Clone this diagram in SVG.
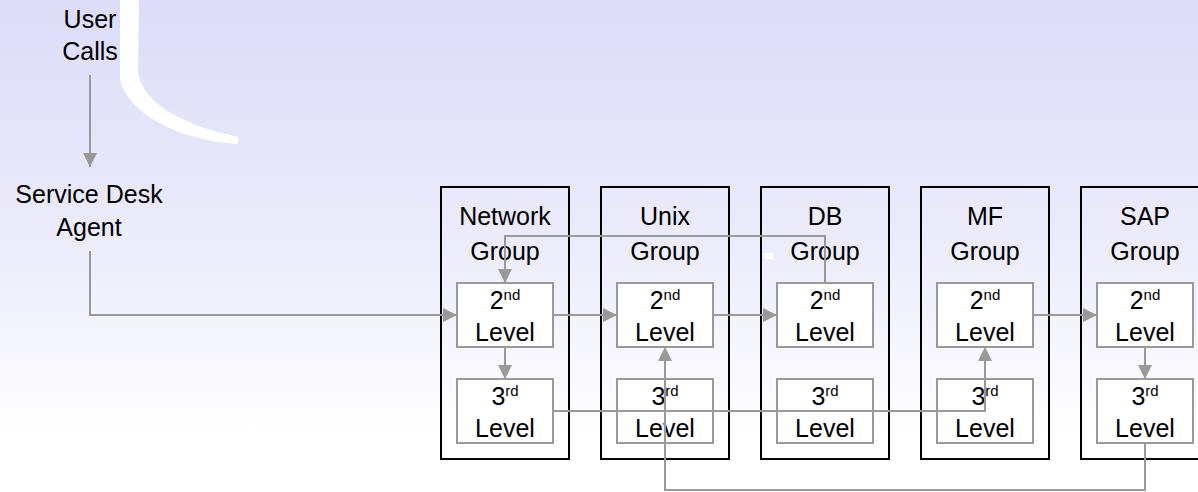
<svg xmlns="http://www.w3.org/2000/svg" width="1198" height="492" viewBox="0 0 1198 492">
<defs>
<linearGradient id="bg" x1="0" y1="0" x2="0" y2="1">
<stop offset="0" stop-color="#dcdcf8"/>
<stop offset="0.5" stop-color="#ececfb"/>
<stop offset="0.88" stop-color="#ffffff"/>
</linearGradient>
<marker id="arr" markerUnits="userSpaceOnUse" markerWidth="16" markerHeight="16" refX="14" refY="7" orient="auto">
<path d="M0,0 L14,7 L0,14 Z" fill="#999999"/>
</marker>
</defs>
<style>
text{font-family:"Liberation Sans",Arial,sans-serif;font-size:25px;fill:#000;text-anchor:middle}
.sup{font-size:15px}
.grp{fill:none;stroke:#000;stroke-width:2}
.lvl{fill:#fff;stroke:#999999;stroke-width:2}
.con{fill:none;stroke:#999999;stroke-width:2;marker-end:url(#arr)}
</style>
<rect x="0" y="0" width="1198" height="492" fill="url(#bg)"/>
<path d="M120,0 L139,0 L138,72 C142,98 170,122 238,137 L238,144 C175,140 128,112 120,80 Z" fill="#ffffff"/>
<rect x="765" y="253" width="8" height="6" fill="#ffffff"/>

<g id="user-calls"><text x="90" y="28">User</text><text x="90" y="60">Calls</text></g>
<g id="service-desk"><text x="89" y="203">Service Desk</text><text x="89" y="236">Agent</text></g>

<g id="network">
<rect class="grp" x="441" y="187" width="128" height="272"/>
<text x="505" y="225">Network</text><text x="505" y="260">Group</text>
<rect class="lvl" x="457" y="283" width="96" height="64"/>
<text x="505" y="309">2<tspan class="sup" dy="-9">nd</tspan></text><text x="505" y="341">Level</text>
<rect class="lvl" x="457" y="379" width="96" height="64"/>
<text x="505" y="405">3<tspan class="sup" dy="-9">rd</tspan></text><text x="505" y="437">Level</text>
</g>
<g id="unix">
<rect class="grp" x="601" y="187" width="128" height="272"/>
<text x="665" y="225">Unix</text><text x="665" y="260">Group</text>
<rect class="lvl" x="617" y="283" width="96" height="64"/>
<text x="665" y="309">2<tspan class="sup" dy="-9">nd</tspan></text><text x="665" y="341">Level</text>
<rect class="lvl" x="617" y="379" width="96" height="64"/>
<text x="665" y="405">3<tspan class="sup" dy="-9">rd</tspan></text><text x="665" y="437">Level</text>
</g>
<g id="db">
<rect class="grp" x="761" y="187" width="128" height="272"/>
<text x="825" y="225">DB</text><text x="825" y="260">Group</text>
<rect class="lvl" x="777" y="283" width="96" height="64"/>
<text x="825" y="309">2<tspan class="sup" dy="-9">nd</tspan></text><text x="825" y="341">Level</text>
<rect class="lvl" x="777" y="379" width="96" height="64"/>
<text x="825" y="405">3<tspan class="sup" dy="-9">rd</tspan></text><text x="825" y="437">Level</text>
</g>
<g id="mf">
<rect class="grp" x="921" y="187" width="128" height="272"/>
<text x="985" y="225">MF</text><text x="985" y="260">Group</text>
<rect class="lvl" x="937" y="283" width="96" height="64"/>
<text x="985" y="309">2<tspan class="sup" dy="-9">nd</tspan></text><text x="985" y="341">Level</text>
<rect class="lvl" x="937" y="379" width="96" height="64"/>
<text x="985" y="405">3<tspan class="sup" dy="-9">rd</tspan></text><text x="985" y="437">Level</text>
</g>
<g id="sap">
<rect class="grp" x="1081" y="187" width="128" height="272"/>
<text x="1145" y="225">SAP</text><text x="1145" y="260">Group</text>
<rect class="lvl" x="1097" y="283" width="96" height="64"/>
<text x="1145" y="309">2<tspan class="sup" dy="-9">nd</tspan></text><text x="1145" y="341">Level</text>
<rect class="lvl" x="1097" y="379" width="96" height="64"/>
<text x="1145" y="405">3<tspan class="sup" dy="-9">rd</tspan></text><text x="1145" y="437">Level</text>
</g>

<g id="connectors">
<path class="con" d="M90,75 L90,167"/>
<path class="con" d="M90,251 L90,315 L457,315"/>
<path class="con" d="M553,315 L617,315"/>
<path class="con" d="M713,315 L777,315"/>
<path class="con" d="M1033,315 L1097,315"/>
<path class="con" d="M505,347 L505,379"/>
<path class="con" d="M1145,347 L1145,379"/>
<path class="con" d="M825,283 L825,236 L505,236 L505,283"/>
<path class="con" d="M553,411 L985,411 L985,347"/>
<path class="con" d="M1145,443 L1145,490 L665,490 L665,347"/>
</g>
</svg>
